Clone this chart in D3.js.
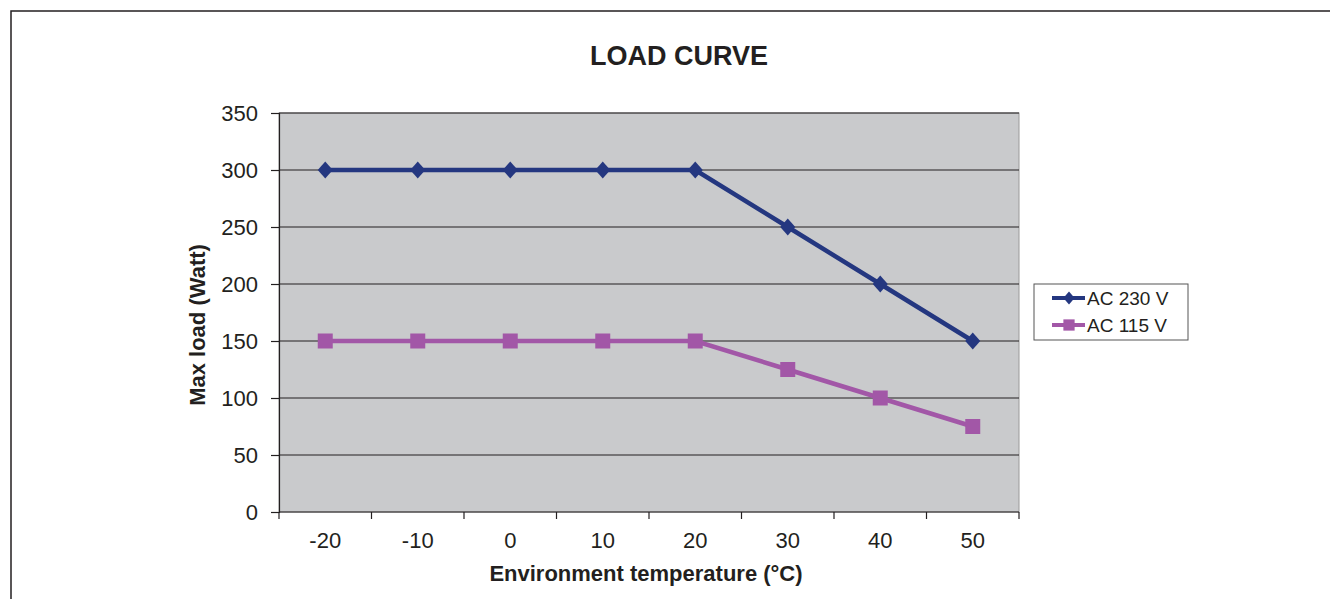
<!DOCTYPE html>
<html>
<head>
<meta charset="utf-8">
<script src="https://cdn.jsdelivr.net/npm/d3@7"></script>
<style>
body { margin: 0; background: #fff; }
text { font-family: "Liberation Sans", Arial, sans-serif; fill: #231f20; }
</style>
</head>
<body>
<script>
var categories = ["-20", "-10", "0", "10", "20", "30", "40", "50"];
var ac230 = [300, 300, 300, 300, 300, 250, 200, 150];
var ac115 = [150, 150, 150, 150, 150, 125, 100, 75];
var yTicks = [0, 50, 100, 150, 200, 250, 300, 350];

var outerWidth = 1330;
var outerHeight = 599;
var plotLeft = 279;
var plotRight = 1019;
var plotTop = 113;
var plotBottom = 512;

var navy = "#243780";
var purple = "#a257a7";
var ink = "#231f20";

var svg = d3.select("body").append("svg")
    .attr("width", outerWidth)
    .attr("height", outerHeight);

// outer frame, runs off the right and bottom edge
svg.append("rect")
    .attr("x", 11).attr("y", 11)
    .attr("width", 1340).attr("height", 620)
    .attr("fill", "none")
    .attr("stroke", ink)
    .attr("stroke-width", 1.5);

var x = d3.scaleBand()
    .domain(categories)
    .range([plotLeft, plotRight]);

var y = d3.scaleLinear()
    .domain([0, 350])
    .range([plotBottom, plotTop]);

// wide diamond, size = full width
var wideDiamond = {
    draw: function(ctx, size) {
        var w = size / 2, h = size * 8 / 14;
        ctx.moveTo(0, -h);
        ctx.lineTo(w, 0);
        ctx.lineTo(0, h);
        ctx.lineTo(-w, 0);
        ctx.closePath();
    }
};
var square = {
    draw: function(ctx, size) {
        var r = size / 2;
        ctx.rect(-r, -r, size, size);
    }
};

// plot area
svg.append("rect")
    .attr("x", plotLeft).attr("y", plotTop)
    .attr("width", plotRight - plotLeft)
    .attr("height", plotBottom - plotTop)
    .attr("fill", "#c9cacc")
    .attr("stroke", "#9a9a9a")
    .attr("stroke-width", 1);

// gridlines
svg.append("g").selectAll("line")
    .data(yTicks.filter(function(d){ return d > 0; }))
    .enter().append("line")
    .attr("x1", plotLeft).attr("x2", plotRight)
    .attr("y1", function(d){ return y(d); })
    .attr("y2", function(d){ return y(d); })
    .attr("stroke", ink)
    .attr("stroke-width", 1);

// y axis
var yAxis = svg.append("g")
    .attr("transform", "translate(" + plotLeft + ",0)")
    .call(d3.axisLeft(y).tickValues(yTicks).tickSize(8).tickPadding(13));
yAxis.select(".domain").attr("stroke", ink).attr("stroke-width", 1.2);
yAxis.selectAll(".tick line").attr("stroke", ink).attr("stroke-width", 1.2);
yAxis.selectAll("text")
    .attr("font-size", 22)
    .attr("font-family", "Liberation Sans, Arial, sans-serif")
    .attr("fill", ink);

// x axis: labels at band centres, ticks at band edges
var xAxisG = svg.append("g")
    .attr("transform", "translate(0," + plotBottom + ")");
xAxisG.append("line")
    .attr("x1", plotLeft).attr("x2", plotRight)
    .attr("stroke", ink).attr("stroke-width", 1.2);
var edges = categories.map(function(d){ return x(d); }).concat([plotRight]);
xAxisG.selectAll(".edge")
    .data(edges)
    .enter().append("line")
    .attr("class", "edge")
    .attr("x1", function(d){ return d; })
    .attr("x2", function(d){ return d; })
    .attr("y1", 0).attr("y2", 7)
    .attr("stroke", ink).attr("stroke-width", 1.2);
xAxisG.selectAll(".lbl")
    .data(categories)
    .enter().append("text")
    .attr("class", "lbl")
    .attr("x", function(d){ return x(d) + x.bandwidth() / 2; })
    .attr("y", 36)
    .attr("text-anchor", "middle")
    .attr("font-size", 22)
    .text(function(d){ return d; });

// titles
svg.append("text")
    .attr("x", 679).attr("y", 65)
    .attr("text-anchor", "middle")
    .attr("font-size", 27)
    .attr("font-weight", "bold")
    .text("LOAD CURVE");

svg.append("text")
    .attr("x", 646).attr("y", 581)
    .attr("text-anchor", "middle")
    .attr("font-size", 22)
    .attr("font-weight", "bold")
    .text("Environment temperature (°C)");

svg.append("text")
    .attr("transform", "translate(205,325) rotate(-90)")
    .attr("text-anchor", "middle")
    .attr("font-size", 22)
    .attr("font-weight", "bold")
    .text("Max load (Watt)");

// series
var cx = function(d, i){ return x(categories[i]) + x.bandwidth() / 2; };
var line = d3.line()
    .x(cx)
    .y(function(d){ return y(d); });

var series = [
    { name: "AC 230 V", values: ac230, color: navy, symbol: wideDiamond, size: 15 },
    { name: "AC 115 V", values: ac115, color: purple, symbol: square, size: 15 }
];

series.forEach(function(s){
    svg.append("path")
        .datum(s.values)
        .attr("d", line)
        .attr("fill", "none")
        .attr("stroke", s.color)
        .attr("stroke-width", 4.5);
    svg.append("g").selectAll("path")
        .data(s.values)
        .enter().append("path")
        .attr("transform", function(d, i){ return "translate(" + cx(d, i) + "," + y(d) + ")"; })
        .attr("d", d3.symbol().type(s.symbol).size(s.size))
        .attr("fill", s.color);
});

// legend
var legend = svg.append("g").attr("transform", "translate(1034,284)");
legend.append("rect")
    .attr("width", 154).attr("height", 56)
    .attr("fill", "#fff")
    .attr("stroke", "#555")
    .attr("stroke-width", 1);
series.forEach(function(s, i){
    var ly = 14 + i * 27;
    legend.append("line")
        .attr("x1", 18).attr("x2", 51)
        .attr("y1", ly).attr("y2", ly)
        .attr("stroke", s.color).attr("stroke-width", 4);
    legend.append("path")
        .attr("transform", "translate(35," + ly + ")")
        .attr("d", d3.symbol().type(s.symbol).size(s.size * 0.75))
        .attr("fill", s.color);
    legend.append("text")
        .attr("x", 53).attr("y", ly + 7)
        .attr("font-size", 19)
        .text(s.name);
});
</script>
</body>
</html>
